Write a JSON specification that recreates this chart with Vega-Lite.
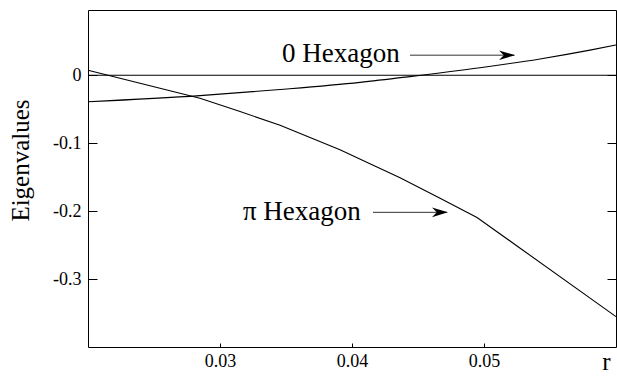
{
  "$schema": "https://vega.github.io/schema/vega-lite/v6.json",
  "width": 528,
  "height": 337,
  "autosize": "none",
  "padding": {"left": 88, "top": 10, "right": 1, "bottom": 30},
  "background": "white",
  "config": {
    "font": "Liberation Serif, Times New Roman, Times, serif",
    "view": {"stroke": "black", "strokeWidth": 1},
    "axis": {
      "domain": false,
      "grid": false,
      "labelFont": "Liberation Serif, Times New Roman, Times, serif",
      "labelFontSize": 18,
      "labelColor": "black",
      "tickColor": "black",
      "titleFont": "Liberation Serif, Times New Roman, Times, serif",
      "titleFontWeight": "normal",
      "titleColor": "black"
    }
  },
  "datasets": {
    "curves": [
      {"series": "zero", "r": 0.02, "v": 0},
      {"series": "zero", "r": 0.06, "v": 0},
      {"series": "pihex", "r": 0.02, "v": 0.0074},
      {"series": "pihex", "r": 0.02394, "v": -0.0118},
      {"series": "pihex", "r": 0.02848, "v": -0.034},
      {"series": "pihex", "r": 0.03152, "v": -0.0535},
      {"series": "pihex", "r": 0.03455, "v": -0.0735},
      {"series": "pihex", "r": 0.03682, "v": -0.0915},
      {"series": "pihex", "r": 0.03909, "v": -0.1098},
      {"series": "pihex", "r": 0.04136, "v": -0.1302},
      {"series": "pihex", "r": 0.04364, "v": -0.1508},
      {"series": "pihex", "r": 0.04667, "v": -0.1812},
      {"series": "pihex", "r": 0.04947, "v": -0.2093},
      {"series": "pihex", "r": 0.0525, "v": -0.2513},
      {"series": "pihex", "r": 0.06, "v": -0.3553}
    ],
    "zerohex": [
      {"series": "0hex", "r": 0.02, "v": -0.039},
      {"series": "0hex", "r": 0.02848, "v": -0.03},
      {"series": "0hex", "r": 0.03455, "v": -0.021},
      {"series": "0hex", "r": 0.04061, "v": -0.0105},
      {"series": "0hex", "r": 0.04439, "v": -0.002},
      {"series": "0hex", "r": 0.0497, "v": 0.011},
      {"series": "0hex", "r": 0.05424, "v": 0.024},
      {"series": "0hex", "r": 0.05803, "v": 0.037},
      {"series": "0hex", "r": 0.06, "v": 0.0445}
    ],
    "labels": [
      {"label": "0 Hexagon", "r": 0.0347, "v": 0.031},
      {"label": "π Hexagon", "r": 0.03174, "v": -0.2018}
    ],
    "arrows": [
      {"arrow": "a", "r": 0.04439, "v": 0.0295},
      {"arrow": "a", "r": 0.0523, "v": 0.0295},
      {"arrow": "b", "r": 0.04159, "v": -0.2018},
      {"arrow": "b", "r": 0.0472, "v": -0.2018}
    ],
    "heads": [
      {"arrow": "a", "r": 0.05235, "v": 0.0295},
      {"arrow": "b", "r": 0.04727, "v": -0.2018}
    ]
  },
  "encoding": {
    "x": {
      "field": "r",
      "type": "quantitative",
      "scale": {"domain": [0.02, 0.06], "nice": false, "zero": false},
      "axis": {
        "orient": "bottom",
        "values": [0.03, 0.04, 0.05],
        "format": ".2f",
        "tickSize": -4,
        "labelPadding": 9,
        "title": "r",
        "titleFontSize": 25,
        "titleX": 518,
        "titleY": 22,
        "titleAlign": "center",
        "titleBaseline": "alphabetic"
      }
    }
  },
  "layer": [
    {
      "data": {"name": "curves"},
      "mark": {"type": "line", "color": "black", "strokeWidth": 1.1},
      "encoding": {
        "detail": {"field": "series"},
        "y": {
          "field": "v",
          "type": "quantitative",
          "scale": {"domain": [-0.4, 0.096], "nice": false, "zero": false},
          "axis": {
            "orient": "left",
            "values": [0, -0.1, -0.2, -0.3],
            "labelExpr": "datum.value == 0 ? '0' : '-0.' + round(-datum.value * 10)",
            "tickSize": -9,
            "labelPadding": 16,
            "title": "Eigenvalues",
            "titleFontSize": 25,
            "titleX": -60,
            "titleY": 150,
            "titleAngle": -90,
            "titleAlign": "center",
            "titleBaseline": "alphabetic"
          }
        }
      }
    },
    {
      "data": {"name": "arrows"},
      "mark": {"type": "line", "color": "#333333", "strokeWidth": 1},
      "encoding": {
        "detail": {"field": "arrow"},
        "y": {
          "field": "v",
          "type": "quantitative",
          "scale": {"domain": [-0.4, 0.096], "nice": false, "zero": false},
          "axis": {
            "orient": "right",
            "values": [0, -0.1, -0.2, -0.3],
            "labels": false,
            "tickSize": -9,
            "title": null
          }
        }
      }
    },
    {
      "data": {"name": "zerohex"},
      "mark": {"type": "line", "color": "black", "strokeWidth": 1.1, "interpolate": "monotone"},
      "encoding": {
        "y": {"field": "v", "type": "quantitative", "axis": null}
      }
    },
    {
      "data": {"name": "heads"},
      "mark": {
        "type": "point",
        "shape": "M 0 0 L -1 -0.3 L -0.7 0 L -1 0.3 Z",
        "filled": true,
        "color": "black",
        "opacity": 1,
        "size": 1024
      },
      "encoding": {
        "y": {"field": "v", "type": "quantitative", "axis": null}
      }
    },
    {
      "data": {"name": "labels"},
      "mark": {
        "type": "text",
        "align": "left",
        "baseline": "middle",
        "font": "Liberation Serif, Times New Roman, Times, serif",
        "fontSize": 27,
        "color": "black"
      },
      "encoding": {
        "y": {"field": "v", "type": "quantitative", "axis": null},
        "text": {"field": "label"}
      }
    }
  ],
  "resolve": {"axis": {"y": "independent"}}
}
